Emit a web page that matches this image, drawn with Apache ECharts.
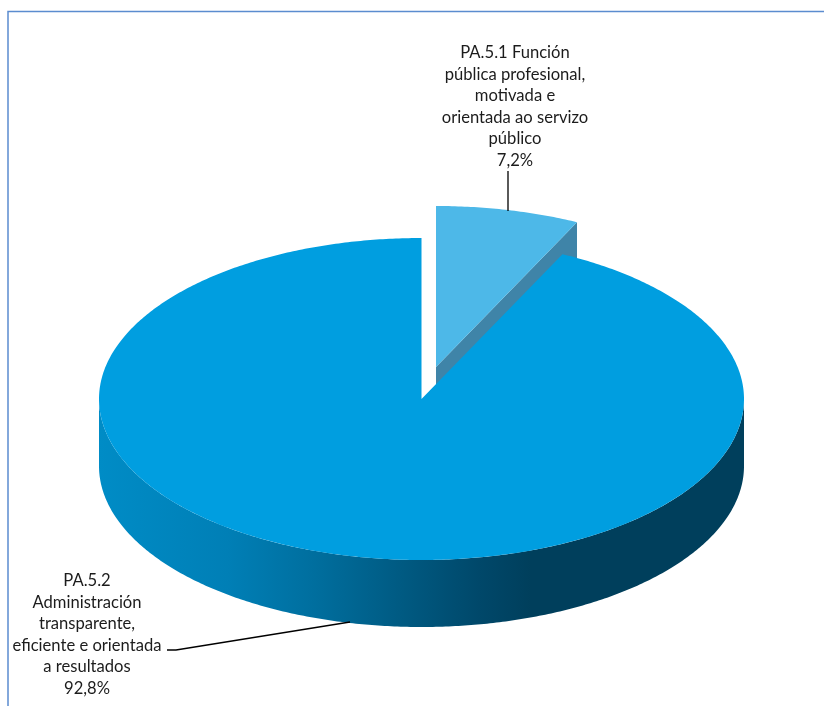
<!DOCTYPE html>
<html>
<head>
<meta charset="utf-8">
<style>html,body{margin:0;padding:0;background:#fff}#chart{width:824px;height:706px}</style>
<script src="https://cdn.jsdelivr.net/npm/echarts@6/dist/echarts.min.js"></script>
</head>
<body>
<div id="chart"></div>
<script>
var categories = [
  'PA.5.1 Función\npública profesional,\nmotivada e\norientada ao servizo\npúblico',
  'PA.5.2\nAdministración\ntransparente,\neficiente e orientada\na resultados'
];
var shareValues = [7.2, 92.8];
var valueLabels = ['7,2%', '92,8%'];

var cx = 421.5, cy = 399, rx = 322.5, ry = 161, depth = 67;
var explode = [14.5, -32];
var total = shareValues.reduce(function (a, b) { return a + b; }, 0);
var wallFill = {
  type: 'linear', x: 99, y: 0, x2: 744, y2: 0, global: true,
  colorStops: [
    { offset: 0, color: '#008cc6' },
    { offset: 0.2, color: '#007fb6' },
    { offset: 0.33, color: '#006f9f' },
    { offset: 0.47, color: '#005a82' },
    { offset: 0.59, color: '#00486a' },
    { offset: 0.67, color: '#003f5c' },
    { offset: 1, color: '#003f5c' }
  ]
};

function pt(t, ox, oy, dz) {
  return [cx + ox + rx * Math.sin(t), cy + oy - ry * Math.cos(t) + (dz || 0)];
}
function arc(a, b, ox, oy, dz) {
  var out = [], n = Math.max(2, Math.ceil(Math.abs(b - a) / 0.01));
  for (var i = 0; i <= n; i++) out.push(pt(a + (b - a) * i / n, ox, oy, dz));
  return out;
}
function renderItem(params, api) {
  var i = params.dataIndex;
  var before = 0;
  for (var k = 0; k < i; k++) before += shareValues[k];
  var a0 = before / total * 2 * Math.PI;
  var a1 = (before + api.value(0)) / total * 2 * Math.PI;
  var textStyle = {
    text: categories[i] + '\n' + valueLabels[i],
    align: 'center', verticalAlign: 'top',
    fontFamily: 'Lato', fontSize: 16.6, lineHeight: 21.5, fill: '#1c1c1c'
  };
  if (i === 0) {
    var ox = explode[0], oy = explode[1];
    var apex = [cx + ox, cy + oy];
    var end = pt(a1, ox, oy);
    return {
      type: 'group',
      children: [
        { type: 'polygon', shape: { points: [apex, end, [end[0], end[1] + depth], [apex[0], apex[1] + depth]] }, style: { fill: '#3f84a8' } },
        { type: 'polygon', shape: { points: [apex].concat(arc(a0, a1, ox, oy)) }, style: { fill: '#4db8e8' } },
        { type: 'polyline', shape: { points: [[508, 171], [508, 211]] }, style: { stroke: '#000', lineWidth: 1.3, fill: 'none' } },
        { type: 'text', style: Object.assign({ x: 515, y: 42 }, textStyle) }
      ]
    };
  }
  var front = arc(Math.PI / 2, 3 * Math.PI / 2, 0, 0, 0);
  var frontLow = arc(3 * Math.PI / 2, Math.PI / 2, 0, 0, depth);
  return {
    type: 'group',
    children: [
      { type: 'polygon', shape: { points: front.concat(frontLow) }, style: { fill: wallFill } },
      { type: 'polygon', shape: { points: [[cx, cy]].concat(arc(a0, a1, 0, 0)) }, style: { fill: '#009ee0' } },
      { type: 'polyline', shape: { points: [[167, 650], [176, 650], [350, 622]] }, style: { stroke: '#000', lineWidth: 1.3, fill: 'none' } },
      { type: 'text', style: Object.assign({ x: 87, y: 570 }, textStyle) }
    ]
  };
}

var chart = echarts.init(document.getElementById('chart'), null, { renderer: 'canvas' });
chart.setOption({
  animation: false,
  backgroundColor: '#fff',
  graphic: [{
    type: 'polyline', silent: true, z: 10,
    shape: { points: [[8, 706], [8, 11.5], [824, 11.5]] },
    style: { stroke: '#5b8ccf', lineWidth: 1.5, fill: 'none' }
  }],
  series: [{
    type: 'custom',
    coordinateSystem: 'none',
    renderItem: renderItem,
    clip: false,
    silent: true,
    data: shareValues.map(function (v) { return [v]; })
  }]
});
</script>
</body>
</html>
